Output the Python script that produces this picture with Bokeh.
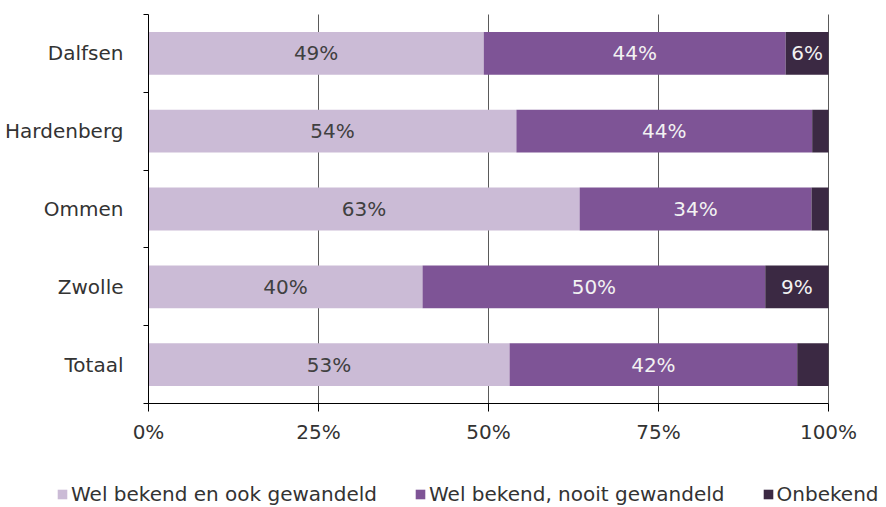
from bokeh.plotting import figure
from bokeh.models import ColumnDataSource, FixedTicker, Legend, LegendItem, Range1d
from bokeh.core.properties import value
from bokeh.embed import file_html
from bokeh.resources import INLINE

categories = ["Dalfsen", "Hardenberg", "Ommen", "Zwolle", "Totaal"]
gewandeld = [49.3, 54.1, 63.4, 40.3, 53.1]
nooit = [44.4, 43.5, 34.1, 50.4, 42.3]
onbekend = [6.3, 2.4, 2.5, 9.3, 4.6]
series_names = ["Wel bekend en ook gewandeld", "Wel bekend, nooit gewandeld", "Onbekend"]
colors = ["#CBBBD6", "#7E5496", "#3B2943"]
label_colors = ["#404040", "#F2F2F2", "#F2F2F2"]
x_ticks = [0, 25, 50, 75, 100]
x_tick_labels = ["0%", "25%", "50%", "75%", "100%"]

FONT = "DejaVu Sans"
FS = "20px"
n = len(categories)
ys = [n - 0.5 - i for i in range(n)]

# page geometry (pixels): plot box left/right/top/bottom
W, H = 886, 507
PL, PR, PT, PB = 148, 828, 14, 403
sx = (PR - PL) / 100.0
sy = (PB - PT) / n
x_range = Range1d(-PL / sx, 100 + (W - PR) / sx)
y_range = Range1d(-(H - PB) / sy, n + PT / sy)

p = figure(width=W, height=H, output_backend="svg", toolbar_location=None,
           x_range=x_range, y_range=y_range,
           min_border=0, min_border_left=0, min_border_right=0,
           min_border_top=0, min_border_bottom=0)
p.outline_line_color = None
p.xgrid.grid_line_color = None
p.ygrid.grid_line_color = None

# vertical gridlines within the plot box
p.segment(x0=x_ticks[1:], y0=[0] * (len(x_ticks) - 1), x1=x_ticks[1:], y1=[n] * (len(x_ticks) - 1),
          line_color="#5A5A5A", line_width=1)

series = [gewandeld, nooit, onbekend]
lefts = [0.0] * n
renderers = []
lx, ly, lt, lc = [], [], [], []
for s, vals in enumerate(series):
    rights = [l + v for l, v in zip(lefts, vals)]
    src = ColumnDataSource(dict(y=ys, left=lefts, right=rights))
    r = p.hbar(y="y", left="left", right="right", height=0.55, source=src,
               fill_color=colors[s], line_color=None)
    renderers.append(r)
    for i in range(n):
        if vals[i] >= 5:
            lx.append((lefts[i] + rights[i]) / 2)
            ly.append(ys[i])
            lt.append(f"{round(vals[i])}%")
            lc.append(label_colors[s])
    lefts = rights

lsrc = ColumnDataSource(dict(x=lx, y=ly, t=lt, c=lc))
p.text(x="x", y="y", text="t", text_color="c", source=lsrc, text_align="center",
       text_baseline="middle", text_font=value(FONT), text_font_size=FS)

# x axis
p.xaxis.fixed_location = 0
p.xaxis.bounds = (0, 100)
p.xaxis.ticker = FixedTicker(ticks=x_ticks)
p.xaxis.major_label_overrides = {t: l for t, l in zip(x_ticks, x_tick_labels)}
p.xaxis.major_tick_out = 8
p.xaxis.major_tick_in = 0
p.xaxis.minor_tick_out = 0
p.xaxis.major_label_standoff = 8
p.xaxis.axis_line_color = "black"
p.xaxis.major_tick_line_color = "black"
p.xaxis.major_label_text_font = FONT
p.xaxis.major_label_text_font_size = FS
p.xaxis.major_label_text_color = "#333333"

# y axis
p.yaxis.fixed_location = 0
p.yaxis.bounds = (0, n)
p.yaxis.ticker = FixedTicker(ticks=ys, minor_ticks=list(range(n + 1)))
p.yaxis.major_label_overrides = {y: c for y, c in zip(ys, categories)}
p.yaxis.major_tick_out = 0
p.yaxis.major_tick_in = 0
p.yaxis.minor_tick_out = 5
p.yaxis.minor_tick_in = 0
p.yaxis.major_label_standoff = 20
p.yaxis.axis_line_color = "black"
p.yaxis.minor_tick_line_color = "black"
p.yaxis.major_label_text_font = FONT
p.yaxis.major_label_text_font_size = FS
p.yaxis.major_label_text_color = "#333333"

legend = Legend(items=[LegendItem(label=nm, renderers=[r]) for nm, r in zip(series_names, renderers)],
                orientation="horizontal", location=(56, 1),
                glyph_width=12, glyph_height=12, label_standoff=3, spacing=37,
                label_text_font=FONT, label_text_font_size=FS, label_text_color="#333333",
                padding=0, margin=0, border_line_alpha=0, background_fill_alpha=0)
p.add_layout(legend, "center")

open("out.html", "w").write(file_html(p, INLINE))
